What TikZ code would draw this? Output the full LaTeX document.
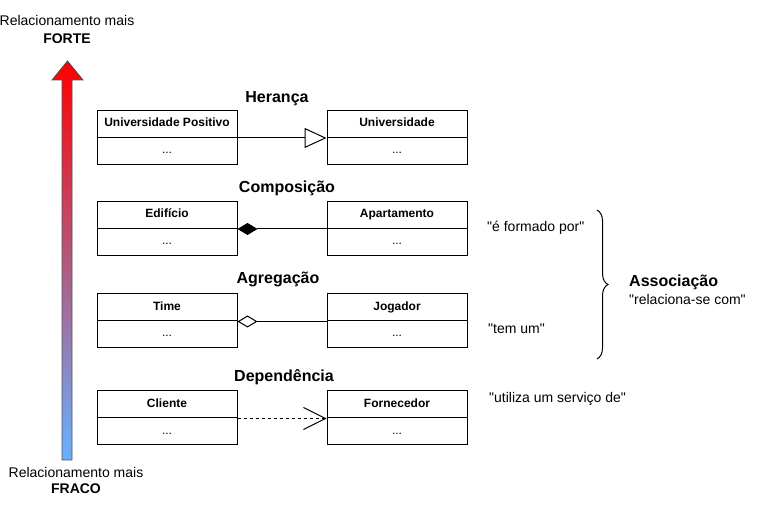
\documentclass[tikz,border=0pt]{standalone}
\usepackage{fontspec}
\setmainfont{Liberation Sans}[Ligatures=TeXOff]
\usetikzlibrary{arrows.meta,decorations.pathreplacing}
\begin{document}
\begin{tikzpicture}[x=1pt,y=-1pt,
  clsbase/.style={draw, line width=1pt, minimum width=140pt, minimum height=27pt, inner sep=0pt, text height=9pt, text depth=3pt},
  cls/.style={clsbase, font=\fontsize{12}{14}\selectfont\bfseries},
  clsb/.style={clsbase, font=\fontsize{12}{14}\selectfont},
  ttl/.style={font=\fontsize{16}{19}\selectfont\bfseries, inner sep=0pt},
  note/.style={font=\fontsize{14}{17}\selectfont, inner sep=0pt},
  notebf/.style={font=\fontsize{14}{17}\selectfont\bfseries, inner sep=0pt},
  rel/.style={line width=1pt}]
\useasboundingbox (0,0) rectangle (758,510);

% strength arrow
\shadedraw[top color=red, bottom color={rgb,255:red,102;green,178;blue,255}, draw={rgb,255:red,80;green,80;blue,80}, line width=0.8pt]
  (62,460) -- (62,80) -- (52,80) -- (67.5,61) -- (83,80) -- (72,80) -- (72,460) -- cycle;
\node[note] (fa) at (67,21) {Relacionamento mais};
\node[notebf] (fb) at (67,39) {FORTE};
\node[note] (wa) at (76,472) {Relacionamento mais};
\node[notebf] (wb) at (76,489) {FRACO};

% row 1: Heranca
\node[ttl] (t1) at (277,99) {Herança};
\node[cls]  (a1) at (167,124) {Universidade Positivo};
\node[clsb] (a1b) at (167,151) {...};
\node[cls]  (b1) at (397,124) {Universidade};
\node[clsb] (b1b) at (397,151) {...};
\draw[rel, -{Triangle[open, length=22pt, width=20pt]}] (a1.south east) -- (b1.south west);

% row 2: Composicao
\node[ttl] (t2) at (287,188) {Composição};
\node[cls]  (a2) at (167,215) {Edifício};
\node[clsb] (a2b) at (167,242) {...};
\node[cls]  (b2) at (397,215) {Apartamento};
\node[clsb] (b2b) at (397,242) {...};
\draw[rel, {Diamond[length=20pt, width=12pt]}-] (a2.south east) -- (b2.south west);

% row 3: Agregacao
\node[ttl] (t3) at (278,279) {Agregação};
\node[cls]  (a3) at (167,307.5) {Time};
\node[clsb] (a3b) at (167,334) {...};
\node[cls]  (b3) at (397,307.5) {Jogador};
\node[clsb] (b3b) at (397,334) {...};
\draw[rel, {Diamond[open, fill=white, length=20pt, width=12pt]}-] (a3.south east) -- (b3.south west);

% row 4: Dependencia
\node[ttl] (t4) at (284,377) {Dependência};
\node[cls]  (a4) at (167,404.5) {Cliente};
\node[clsb] (a4b) at (167,431.5) {...};
\node[cls]  (b4) at (397,404.5) {Fornecedor};
\node[clsb] (b4b) at (397,431.5) {...};
\draw[rel, dash pattern=on 3pt off 3pt, -{Straight Barb[length=22pt, width=22pt]}] (a4.south east) -- (b4.south west);

% right annotations
\node[note, anchor=west] (q1) at (487,228) {"é formado por"};
\node[note, anchor=west] (q2) at (488,329) {"tem um"};
\node[note, anchor=west] (q3) at (489,399) {"utiliza um serviço de"};
\coordinate (brT) at (597,210);
\coordinate (brB) at (597,359);
\draw[line width=1pt, decorate, decoration={brace, amplitude=11pt}] (brT) -- (brB);
\node[notebf, font=\fontsize{16}{19}\selectfont\bfseries, anchor=west] (as) at (629,282) {Associação};
\node[note, anchor=west] (asb) at (629,299) {"relaciona-se com"};
\end{tikzpicture}
\end{document}
